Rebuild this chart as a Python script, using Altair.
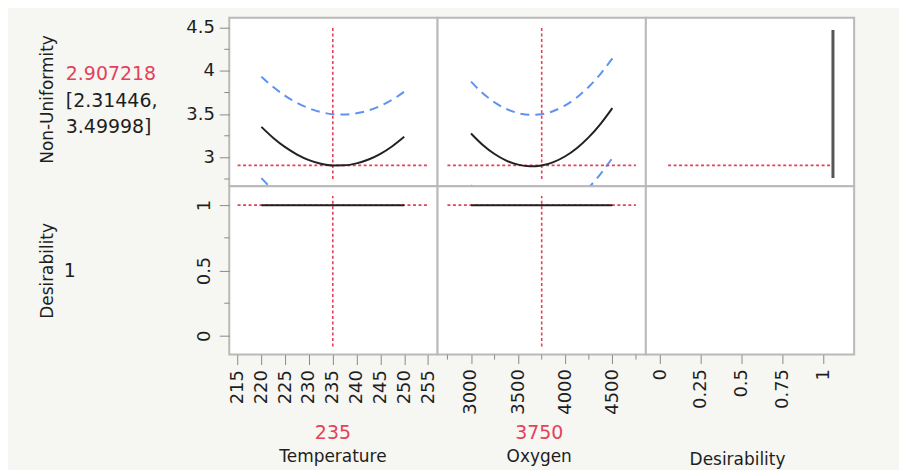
import altair as alt
import pandas as pd

# ---------------- data ----------------
temperature = [220, 222.5, 225, 227.5, 230, 232.5, 235, 237.5, 240, 242.5, 245, 247.5, 250]
temp_mean = [3.353, 3.225, 3.118, 3.033, 2.969, 2.927, 2.907, 2.908, 2.931, 2.975, 3.041, 3.129, 3.238]
temp_upper = [3.934, 3.813, 3.712, 3.630, 3.568, 3.524, 3.500, 3.495, 3.510, 3.543, 3.596, 3.668, 3.760]
temp_lower = [2.760, 2.620, 2.500, 2.410, 2.350, 2.320, 2.310, 2.320, 2.350, 2.390, 2.460, 2.550, 2.640]

oxygen = [3000, 3125, 3250, 3375, 3500, 3625, 3750, 3875, 4000, 4125, 4250, 4375, 4500]
oxy_mean = [3.277, 3.144, 3.039, 2.963, 2.916, 2.897, 2.907, 2.946, 3.013, 3.109, 3.234, 3.388, 3.570]
oxy_upper = [3.876, 3.742, 3.637, 3.560, 3.512, 3.492, 3.500, 3.537, 3.602, 3.695, 3.817, 3.967, 4.146]
oxy_lower = [2.678, 2.546, 2.441, 2.366, 2.320, 2.302, 2.314, 2.355, 2.424, 2.523, 2.651, 2.809, 2.994]

current_temp = 235
current_oxy = 3750
prediction = 2.907218
ci_text = ["[2.31446,", "3.49998]"]
desirability_value = 1

temp_range = [215, 255]
oxy_range = [2750, 4750]
desir_curve_x = [1.06, 1.06]
desir_curve_y = [2.762, 4.474]
desir_ref_x = [0.049, 1.06]
cross_nu = [2.75, 4.5]
cross_d = [-0.08, 1.07]

temp_ticks = [215, 220, 225, 230, 235, 240, 245, 250, 255]
oxy_major = [3000, 3500, 4000, 4500]
oxy_minor = [2750, 3250, 3750, 4250, 4750]
desir_ticks = [0, 0.25, 0.5, 0.75, 1]
nu_major = [3, 3.5, 4, 4.5]
nu_minor = [2.75, 3.25, 3.75, 4.25]
d_major = [0, 0.5, 1]
d_minor = [0.25, 0.75]

# ---------------- style ----------------
W, H = 209, 169
FONT = "DejaVu Sans"
RED = "#e5415b"
BLUE = "#5f93ef"
BLACK = "#222222"
TXT = "#1e1e1e"
TICK = "#8a8a8a"

sx_temp = alt.Scale(domain=[213.25, 257], nice=False, zero=False)
sx_oxy = alt.Scale(domain=[2645, 4855], nice=False, zero=False)
sx_des = alt.Scale(domain=[-0.0875, 1.19], nice=False, zero=False)
sy_nu = alt.Scale(domain=[2.667, 4.615], nice=False, zero=False)
sy_d = alt.Scale(domain=[-0.143, 1.145], nice=False, zero=False)

axis_common = dict(domain=False, grid=False, labelFont=FONT, labelFontSize=18,
                   labelColor=TXT, tickColor=TICK, tickWidth=1,
                   labelOverlap=False, labelFlush=False, title="")

ax_nu = alt.Axis(values=nu_major, format=".1~f", tickSize=10, labelPadding=5, **axis_common)
ax_d = alt.Axis(values=d_major, format=".1~f", tickSize=10, labelAngle=-90, labelAlign="center",
                labelBaseline="bottom", labelPadding=6, **axis_common)
ax_temp = alt.Axis(values=temp_ticks, format="d", tickSize=10, labelAngle=-90,
                   labelAlign="right", labelBaseline="middle", labelPadding=5, **axis_common)
ax_oxy = alt.Axis(values=oxy_major, format="d", tickSize=9, labelAngle=-90,
                  labelAlign="right", labelBaseline="middle", labelPadding=5, **axis_common)
ax_des = alt.Axis(values=desir_ticks, format=".2~f", tickSize=9, labelAngle=-90,
                  labelAlign="right", labelBaseline="middle", labelPadding=5, **axis_common)


class Panel:
    def __init__(self, sx, sy, xax, yax):
        self.sx, self.sy, self.xax, self.yax = sx, sy, xax, yax

    def X(self, f):
        return alt.X(f, scale=self.sx, axis=self.xax)

    def Y(self, f):
        return alt.Y(f, scale=self.sy, axis=self.yax)

    def curve(self, xs, ys, color, width, dash=None):
        df = pd.DataFrame({"x": xs, "y": ys})
        kw = dict(color=color, strokeWidth=width, clip=True, interpolate="monotone")
        if dash:
            kw["strokeDash"] = dash
        return alt.Chart(df).mark_line(**kw).encode(x=self.X("x:Q"), y=self.Y("y:Q"))

    def hrule(self, x0, x1, yv):
        df = pd.DataFrame({"x": [x0], "x2": [x1], "y": [yv]})
        return alt.Chart(df).mark_rule(color=RED, strokeWidth=1.6, strokeDash=[3, 2.5], clip=True).encode(
            x=self.X("x:Q"), x2="x2:Q", y=self.Y("y:Q"))

    def vrule(self, xv, y0, y1):
        df = pd.DataFrame({"x": [xv], "y": [y0], "y2": [y1]})
        return alt.Chart(df).mark_rule(color=RED, strokeWidth=1.6, strokeDash=[3, 2.5], clip=True).encode(
            x=self.X("x:Q"), y=self.Y("y:Q"), y2="y2:Q")

    def minor_y(self, vals):
        df = pd.DataFrame({"v": vals})
        return alt.Chart(df).mark_rule(color=TICK, strokeWidth=1).encode(
            y=self.Y("v:Q"), x=alt.value(-5), x2=alt.value(0))

    def minor_x(self, vals):
        df = pd.DataFrame({"v": vals})
        return alt.Chart(df).mark_rule(color=TICK, strokeWidth=1).encode(
            x=self.X("v:Q"), y=alt.value(H), y2=alt.value(H + 5))


def label(text, x, y, color=TXT, size=19, angle=0, align="left", baseline="middle"):
    df = pd.DataFrame({"t": [text]})
    return alt.Chart(df).mark_text(font=FONT, fontSize=size, color=color, angle=angle,
                                   align=align, baseline=baseline).encode(
        text="t:N", x=alt.value(x), y=alt.value(y))


anchor = alt.Chart(pd.DataFrame({"a": [0]})).mark_rule(strokeOpacity=0, strokeWidth=1).encode(
    x=alt.value(-220.5), y=alt.value(-8), y2=alt.value(-7))

# ---------------- row 1: Non-Uniformity ----------------
A = Panel(sx_temp, sy_nu, None, ax_nu)
p11 = alt.layer(
    anchor,
    A.minor_y(nu_minor),
    A.curve(temperature, temp_upper, BLUE, 2, [9, 6]),
    A.curve(temperature, temp_lower, BLUE, 2, [9, 6]),
    A.hrule(temp_range[0], temp_range[1], prediction),
    A.vrule(current_temp, cross_nu[0], cross_nu[1]),
    A.curve(temperature, temp_mean, BLACK, 2),
    label("Non-Uniformity", -182, 82, size=17, angle=270, align="center"),
    label(f"{prediction:.6f}", -164, 56, color=RED),
    label(ci_text[0], -164, 84),
    label(ci_text[1], -164, 110),
).properties(width=W, height=H)

B = Panel(sx_oxy, sy_nu, None, None)
p12 = alt.layer(
    B.curve(oxygen, oxy_upper, BLUE, 2, [9, 6]),
    B.curve(oxygen, oxy_lower, BLUE, 2, [9, 6]),
    B.hrule(oxy_range[0], oxy_range[1], prediction),
    B.vrule(current_oxy, cross_nu[0], cross_nu[1]),
    B.curve(oxygen, oxy_mean, BLACK, 2),
).properties(width=W, height=H)

C = Panel(sx_des, sy_nu, None, None)
p13 = alt.layer(
    C.hrule(desir_ref_x[0], desir_ref_x[1], prediction),
    C.curve(desir_curve_x, desir_curve_y, "#555555", 3),
).properties(width=W, height=H)

# ---------------- row 2: Desirability ----------------
flat_t = [desirability_value] * len(temperature)
flat_o = [desirability_value] * len(oxygen)

D = Panel(sx_temp, sy_d, ax_temp, ax_d)
p21 = alt.layer(
    D.minor_y(d_minor),
    D.hrule(temp_range[0], temp_range[1], desirability_value),
    D.vrule(current_temp, cross_d[0], cross_d[1]),
    D.curve(temperature, flat_t, BLACK, 2),
    label("Desirability", -182, 85, size=17, angle=270, align="center"),
    label(str(desirability_value), -166, 85),
    label(str(current_temp), 104, 248, color=RED, align="center"),
    label("Temperature", 104, 272, size=17, align="center"),
).properties(width=W, height=H)

E = Panel(sx_oxy, sy_d, ax_oxy, None)
p22 = alt.layer(
    E.minor_x(oxy_minor),
    E.hrule(oxy_range[0], oxy_range[1], desirability_value),
    E.vrule(current_oxy, cross_d[0], cross_d[1]),
    E.curve(oxygen, flat_o, BLACK, 2),
    label(str(current_oxy), 102, 248, color=RED, align="center"),
    label("Oxygen", 102, 272, size=17, align="center"),
).properties(width=W, height=H)

F = Panel(sx_des, sy_d, ax_des, None)
empty_df = pd.DataFrame({"x": [0.5], "y": [0.5]})
p23 = alt.layer(
    alt.Chart(empty_df).mark_point(opacity=0).encode(x=F.X("x:Q"), y=F.Y("y:Q")),
    label("Desirability", 92, 275, size=17, align="center"),
).properties(width=W, height=H)

chart = alt.concat(p11, p12, p13, p21, p22, p23, columns=3, spacing=0, bounds="flush").configure_view(
    stroke="#b9b9b9", strokeWidth=2, fill="white"
).properties(
    background="#f6f6f2",
    padding={"left": 0, "top": 0, "right": 44, "bottom": 2},
)

chart.save("out.html", embed_options={"renderer": "svg", "actions": False})
